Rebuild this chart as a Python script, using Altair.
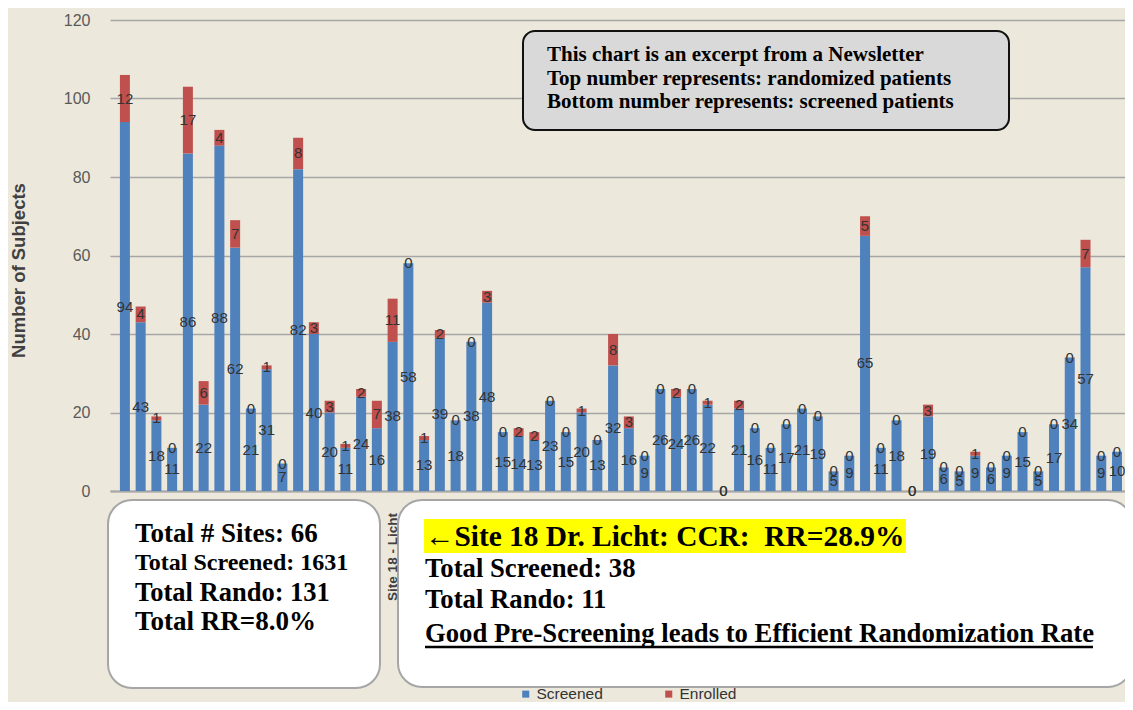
import altair as alt
import pandas as pd

# ---------------- data ----------------
sites = list(range(1, 65))
screened = [94, 43, 18, 11, 86, 22, 88, 62, 21, 31,
            7, 82, 40, 20, 11, 24, 16, 38, 58, 13,
            39, 18, 38, 48, 15, 14, 13, 23, 15, 20,
            13, 32, 16, 9, 26, 24, 26, 22, 0, 21,
            16, 11, 17, 21, 19, 5, 9, 65, 11, 18,
            0, 19, 6, 5, 9, 6, 9, 15, 5, 17,
            34, 57, 9, 10]
enrolled = [12, 4, 1, 0, 17, 6, 4, 7, 0, 1,
            0, 8, 3, 3, 1, 2, 7, 11, 0, 1,
            2, 0, 0, 3, 0, 2, 2, 0, 0, 1,
            0, 8, 3, 0, 0, 2, 0, 1, 0, 2,
            0, 0, 0, 0, 0, 0, 0, 5, 0, 0,
            0, 3, 0, 0, 1, 0, 0, 0, 0, 0,
            0, 7, 0, 0]
series = ["Screened", "Enrolled"]
colors = ["#4F81BD", "#C0504D"]
y_ticks = [0, 20, 40, 60, 80, 100, 120]

highlight_site = 18
highlight_label = "Site 18 - Licht"

top_note = ["This chart is an excerpt from a Newsletter",
            "Top number represents: randomized patients",
            "Bottom number represents: screened patients"]
left_note = ["Total # Sites: 66", "Total Screened: 1631",
             "Total Rando: 131", "Total RR=8.0%"]
right_title = "\u2190Site 18 Dr. Licht: CCR:\u00a0 RR=28.9%"
right_note = ["Total Screened: 38", "Total Rando: 11",
              "Good Pre-Screening leads to Efficient Randomization Rate"]

# ---------------- tables ----------------
rows = []
for s, a, b in zip(sites, screened, enrolled):
    rows.append({"site": s, "series": "Screened", "value": a, "ord": 0})
    rows.append({"site": s, "series": "Enrolled", "value": b, "ord": 1})
bars_df = pd.DataFrame(rows)

lab = []
for s, a, b in zip(sites, screened, enrolled):
    lab.append({"site": s, "lbl": str(a), "ypos": a / 2})
    lab.append({"site": s, "lbl": str(b), "ypos": a + b / 2})
labels_df = pd.DataFrame(lab)

W, H = 1015, 471
xscale = alt.Scale(domain=[0.371, 64.19], nice=False, zero=False)
yscale = alt.Scale(domain=[0, 120], nice=False)

bars = alt.Chart(bars_df).mark_bar(size=10).encode(
    x=alt.X("site:Q", scale=xscale,
            axis=alt.Axis(title=None, labels=False, ticks=False, grid=False,
                          domainColor="#A6A6A6", domainWidth=2)),
    y=alt.Y("value:Q", stack="zero", scale=yscale,
            axis=alt.Axis(values=y_ticks, title="Number of Subjects",
                          titleFont="Liberation Sans", titleFontSize=18.5,
                          titleFontWeight="bold", titleColor="#404040",
                          titleX=-92, titleY=250, titleAngle=270,
                          titleAlign="center", titleBaseline="middle",
                          labelFont="Liberation Sans", labelFontSize=16,
                          labelColor="#595959", labelPadding=20,
                          ticks=False, domain=False, gridColor="#A6A6A6",
                          gridWidth=1.5)),
    color=alt.Color("series:N",
                    scale=alt.Scale(domain=series, range=colors),
                    legend=alt.Legend(title=None, orient="none",
                                      direction="horizontal",
                                      legendX=408, legendY=666,
                                      symbolType="square", symbolSize=50,
                                      symbolStrokeWidth=0,
                                      labelFont="Liberation Sans",
                                      labelFontSize=15.5, labelColor="#333333",
                                      columnPadding=58, labelOffset=3)),
    order=alt.Order("ord:Q"),
)

labels = alt.Chart(labels_df).mark_text(
    font="Liberation Sans", fontSize=15, color="#333333", baseline="middle"
).encode(
    x=alt.X("site:Q", scale=xscale),
    y=alt.Y("ypos:Q", scale=yscale),
    text="lbl:N",
)

one = alt.Chart(pd.DataFrame({"a": [0]}))


def box(x1, x2, y1, y2, fill, stroke, sw, r):
    return one.mark_rect(fill=fill, stroke=stroke, strokeWidth=sw,
                         cornerRadius=r).encode(
        x=alt.value(x1), x2=alt.value(x2), y=alt.value(y1), y2=alt.value(y2))


def txt(t, x, y, size, font="Liberation Serif", weight="bold"):
    return one.mark_text(text=t, align="left", baseline="middle", font=font,
                         fontWeight=weight, fontSize=size, color="black").encode(
        x=alt.value(x), y=alt.value(y))


layers = [bars, labels]

# top note box
layers.append(box(413, 899, 11, 110, "#D9D9D9", "#111111", 2, 12))
for i, t in enumerate(top_note):
    layers.append(txt(t, 437, 35 + i * 23.5, 21))

# left box
layers.append(box(-2, 270, 480, 668, "white", "#A6A6A6", 2, 24))
left_sizes = [27, 24, 26.5, 27]
left_y = [514, 543, 573, 602]
for t, s, yy in zip(left_note, left_sizes, left_y):
    layers.append(txt(t, 25, yy, s))

# right box
layers.append(box(288, 1022, 480, 667, "white", "#A6A6A6", 2, 24))
layers.append(one.mark_rect(fill="#FFFF00").encode(
    x=alt.value(314), x2=alt.value(796), y=alt.value(499), y2=alt.value(533)))
layers.append(txt(right_title, 315, 517, 29.4))
ys = [549, 580, 614]
for t, yy in zip(right_note, ys):
    layers.append(txt(t, 315, yy, 26.7))
layers.append(one.mark_rule(color="black", strokeWidth=2.5).encode(
    x=alt.value(315), x2=alt.value(983), y=alt.value(627)))

# site 18 axis label (visible between boxes)
site_lab = alt.Chart(pd.DataFrame({"site": [highlight_site],
                                   "t": [highlight_label]})).mark_text(
    angle=270, font="Liberation Sans", fontWeight="bold", fontSize=13.5,
    color="#404040", baseline="middle", align="center"
).encode(x=alt.X("site:Q", scale=xscale), y=alt.value(537), text="t:N")
layers.append(site_lab)

chart = alt.layer(*layers).properties(
    width=W, height=H,
    autosize=alt.AutoSizeParams(type="none"),
    padding={"left": 102, "top": 12, "right": 0, "bottom": 211},
    background="#ECE9DC",
).configure_view(stroke=None)

chart.save("out.html", embed_options={"renderer": "svg", "actions": False})
